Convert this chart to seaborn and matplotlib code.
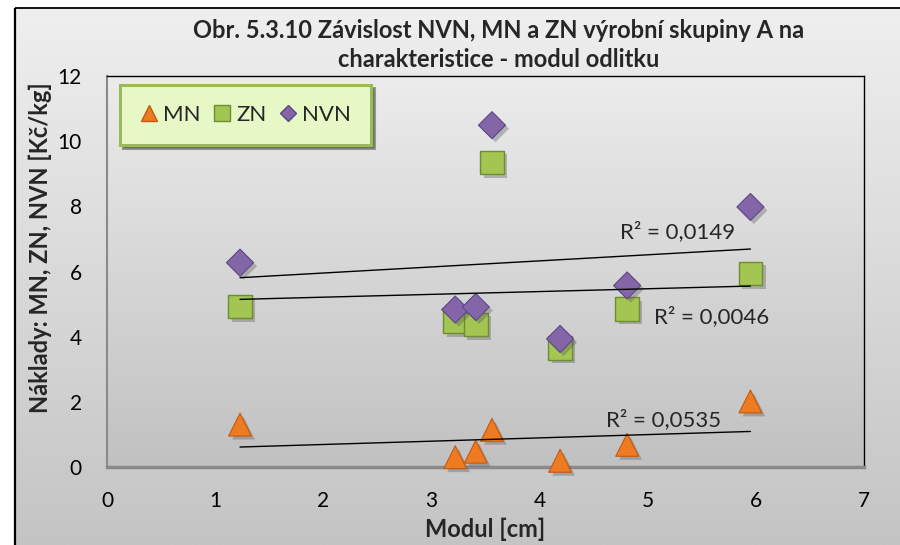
import numpy as np
import pandas as pd
import matplotlib
matplotlib.use('Agg')
import matplotlib.pyplot as plt
import seaborn as sns
from matplotlib.colors import LinearSegmentedColormap
from matplotlib.lines import Line2D
import matplotlib.patheffects as pe

# ---------------- data ----------------
modul = [1.23, 3.22, 3.41, 3.56, 4.19, 4.81, 5.95]
mn = [1.30, 0.30, 0.47, 1.14, 0.19, 0.68, 2.01]
zn = [4.93, 4.47, 4.37, 9.34, 3.65, 4.85, 5.94]
nvn = [6.27, 4.83, 4.91, 10.49, 3.93, 5.57, 7.98]
series_names = ['MN', 'ZN', 'NVN']
r2_labels = ['R² = 0,0535', 'R² = 0,0046', 'R² = 0,0149']
x_ticks = [0, 1, 2, 3, 4, 5, 6, 7]
y_ticks = [0, 2, 4, 6, 8, 10, 12]
title = 'Obr. 5.3.10 Závislost NVN, MN a ZN výrobní skupiny A na\ncharakteristice - modul odlitku'
x_label = 'Modul [cm]'
y_label = 'Náklady: MN, ZN, NVN [Kč/kg]'

# ---------------- style ----------------
sns.set_style('white')
plt.rcParams['font.family'] = ['Lato', 'DejaVu Sans']

W, H = 900, 545
fig = plt.figure(figsize=(W / 100, H / 100), dpi=100)
fig.patch.set_facecolor('white')

# chart background (gradient) + black frame lines
bg = fig.add_axes([0, 0, 1, 1], zorder=-10)
bg.set_xlim(0, W)
bg.set_ylim(H, 0)
bg.axis('off')
grad = np.linspace(0, 1, 256).reshape(-1, 1)
cm_bg = LinearSegmentedColormap.from_list('bg', ['#efefef', '#c4c4c4'])
bg.imshow(grad, extent=[15, W, H, 8], aspect='auto', cmap=cm_bg, interpolation='bilinear')
bg.plot([15, 15], [8, H], color='black', lw=1.6, solid_capstyle='butt')
bg.plot([15, W], [8, 8], color='black', lw=1.3, solid_capstyle='butt')
bg.set_xlim(0, W)
bg.set_ylim(H, 0)

# main axes
ax = fig.add_axes([107 / W, 1 - 467 / H, 757 / W, 391 / H])
ax.set_facecolor('none')
cm_pa = LinearSegmentedColormap.from_list('pa', ['#ececec', '#c1c1c1'])
ax.imshow(grad, extent=[0, 7, 0, 12], aspect='auto', cmap=cm_pa,
          interpolation='bilinear', zorder=0)

df = pd.DataFrame({'Modul': modul, 'MN': mn, 'ZN': zn, 'NVN': nvn})

shadow = [pe.SimplePatchShadow(offset=(2.5, -2.5), shadow_rgbFace='#555555', alpha=0.35), pe.Normal()]
styles = {
    'MN': dict(marker='^', s=270, color='#EE7B22', edgecolor='#C4590F', linewidth=0.8),
    'ZN': dict(marker='s', s=290, color='#A3C552', edgecolor='#6F8C33', linewidth=1.0),
    'NVN': dict(marker='D', s=190, color='#8466A8', edgecolor='#5C4785', linewidth=0.8),
}
for i, name in enumerate(series_names):
    sns.scatterplot(data=df, x='Modul', y=name, ax=ax, zorder=3 + 0.1 * i, legend=False,
                    path_effects=shadow, clip_on=False, **styles[name])

# linear trendlines
xs = np.array([min(modul), max(modul)])
for name in series_names:
    k, q = np.polyfit(modul, df[name], 1)
    ax.plot(xs, k * xs + q, color='black', lw=1.0, zorder=4)

# R^2 labels (positions in data coords)
r2_pos = {'MN': (5.15, 1.45), 'ZN': (5.59, 4.62), 'NVN': (5.28, 7.23)}
for name, lab in zip(series_names, r2_labels):
    ax.text(*r2_pos[name], lab, ha='center', va='center', fontsize=16, zorder=5)

ax.set_xlim(0, 7)
ax.set_ylim(0, 12)
ax.set_xticks(x_ticks)
ax.set_yticks(y_ticks)
ax.tick_params(axis='both', direction='out', length=6, width=1.0, color='#8a8a8a',
               labelsize=15, labelcolor='black')
ax.tick_params(axis='y', pad=12)
ax.tick_params(axis='x', pad=11)

for side in ['top', 'right']:
    ax.spines[side].set_color('black')
    ax.spines[side].set_linewidth(1.0)
ax.spines['left'].set_color('#8a8a8a')
ax.spines['left'].set_linewidth(1.5)
ax.spines['bottom'].set_color('#8a8a8a')
ax.spines['bottom'].set_linewidth(2.5)
ax.spines['bottom'].set_path_effects([pe.SimplePatchShadow(offset=(0, -2), shadow_rgbFace='#777777', alpha=0.4), pe.Normal()])
ax.spines['bottom'].set_zorder(2.5)

ax.set_xlabel(x_label, fontsize=17, fontweight='bold')
ax.xaxis.set_label_coords((485 - 107) / 757, (467 - 518) / 391)
ax.set_ylabel(y_label, fontsize=17, fontweight='bold')
ax.yaxis.set_label_coords((52 - 107) / 757, (467 - 248) / 391)

fig.text(499 / W, 1 - 45 / H, title, ha='center', va='center', fontsize=17,
         fontweight='bold', linespacing=1.3)

# legend
handles = [
    Line2D([], [], linestyle='none', marker='^', markersize=12, markerfacecolor='#EE7B22', markeredgecolor='#C4590F'),
    Line2D([], [], linestyle='none', marker='s', markersize=11, markerfacecolor='#A3C552', markeredgecolor='#6F8C33'),
    Line2D([], [], linestyle='none', marker='D', markersize=8, markerfacecolor='#8466A8', markeredgecolor='#5C4785'),
]
leg = ax.legend(handles, series_names, loc='upper left', bbox_to_anchor=(13 / 757, 1 - 9 / 391),
                ncol=3, frameon=True, fancybox=False, shadow=True, fontsize=16,
                handlelength=0.8, handletextpad=0.25, columnspacing=0.55,
                borderpad=0.9, borderaxespad=0)
frame = leg.get_frame()
frame.set_facecolor('#e6f8c6')
frame.set_edgecolor('#9BBB59')
frame.set_linewidth(2.2)
frame.set_alpha(1)
leg.set_zorder(6)

fig.savefig('out.png', dpi=100)
